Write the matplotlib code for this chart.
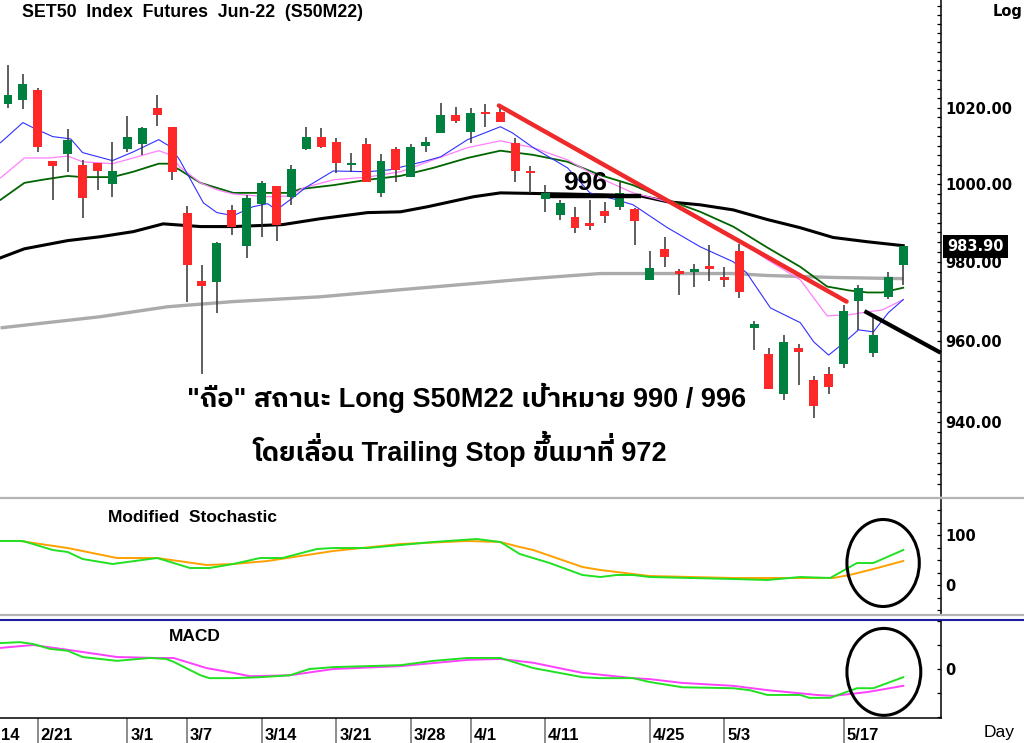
import matplotlib
matplotlib.use('Agg')
import itertools
import matplotlib.pyplot as plt
import matplotlib.transforms as mtransforms
from matplotlib.lines import Line2D
from matplotlib.patches import Ellipse
from matplotlib.ticker import FixedLocator, FixedFormatter, NullFormatter, MultipleLocator
from matplotlib import font_manager as fm
from matplotlib.ft2font import FT2Font
import numpy as np

# ---------------- data ----------------
all_dates = ['2/14', '2/15', '2/17', '2/18', '2/21', '2/22', '2/23', '2/24', '2/25', '2/28',
             '3/1', '3/2', '3/3', '3/4', '3/7', '3/8', '3/9', '3/10', '3/11', '3/14', '3/15',
             '3/16', '3/17', '3/18', '3/21', '3/22', '3/23', '3/24', '3/25', '3/28', '3/29',
             '3/30', '3/31', '4/1', '4/4', '4/5', '4/7', '4/8', '4/11', '4/12', '4/18', '4/19',
             '4/20', '4/21', '4/22', '4/25', '4/26', '4/27', '4/28', '4/29', '5/3', '5/5', '5/6',
             '5/9', '5/10', '5/11', '5/12', '5/13', '5/17', '5/18', '5/19', '5/20', '5/23']
first_candle_date = '2/17'
tick_labels = ['2/14', '2/21', '3/1', '3/7', '3/14', '3/21', '3/28', '4/1', '4/11', '4/25', '5/3', '5/17']
edge_label = '14'   # visible remainder of the '2/14' label at the left edge

opens = [1021.1, 1022.1, 1024.7, 1006.1, 1007.9, 1005.0, 1005.5, 1000.0, 1009.2, 1010.5,
         1020.0, 1015.0, 992.6, 975.2, 974.9, 993.3, 984.1, 994.9, 999.5, 996.7,
         1009.2, 1012.4, 1011.1, 1005.0, 1010.5, 997.7, 1009.2, 1001.8, 1010.0, 1013.4,
         1018.2, 1013.7, 1018.9, 1018.9, 1010.8, 1003.2, 996.2, 992.1, 991.5, 990.0,
         993.1, 994.1, 993.6, 975.4, 983.3, 977.2, 977.5, 979.0, 975.7, 982.8,
         963.3, 956.8, 947.0, 958.3, 950.3, 951.8, 954.3, 970.1, 957.0, 971.1, 979.2]
highs = [1031.5, 1029.1, 1025.3, 1006.1, 1014.5, 1006.3, 1005.5, 1011.1, 1017.9, 1015.0,
         1023.5, 1015.0, 994.4, 979.2, 985.1, 994.6, 997.2, 1000.8, 999.5, 1005.0,
         1015.0, 1014.7, 1012.1, 1008.2, 1012.1, 1007.9, 1009.7, 1010.5, 1012.4, 1021.3,
         1020.3, 1020.0, 1021.1, 1020.3, 1012.1, 1004.7, 999.7, 995.9, 994.1, 995.9,
         995.4, 1000.5, 993.8, 982.8, 986.2, 978.2, 979.5, 984.4, 978.7, 984.6,
         965.1, 958.3, 961.5, 959.3, 951.3, 953.5, 969.1, 974.2, 965.8, 977.5, 984.1]
lows = [1020.0, 1019.7, 1008.4, 995.9, 1003.2, 991.3, 998.5, 996.7, 1008.4, 1007.6,
        1015.3, 1001.1, 969.9, 951.8, 967.1, 986.9, 981.0, 986.2, 985.4, 994.6,
        1008.9, 1009.5, 1002.9, 1003.2, 1000.5, 996.7, 1000.5, 1001.8, 1008.4, 1013.4,
        1016.1, 1010.8, 1015.0, 1016.3, 1000.5, 997.7, 992.8, 990.8, 987.4, 988.2,
        990.0, 993.3, 984.4, 975.4, 978.7, 971.6, 973.7, 975.2, 973.7, 970.9,
        957.8, 948.0, 945.3, 949.0, 941.0, 947.0, 953.3, 962.8, 956.0, 970.6, 974.2]
closes = [1023.5, 1026.4, 1009.7, 1004.7, 1011.6, 996.4, 1003.4, 1003.4, 1012.4, 1014.7,
          1018.2, 1003.2, 979.2, 973.9, 984.9, 989.0, 996.4, 1000.3, 989.5, 1003.9,
          1012.4, 1009.7, 1005.5, 1005.5, 1000.5, 1006.1, 1003.7, 1009.7, 1011.1, 1018.2,
          1016.6, 1018.7, 1018.4, 1016.3, 1003.4, 1002.9, 997.7, 995.1, 988.7, 989.2,
          991.8, 997.7, 990.5, 978.5, 981.3, 977.0, 978.2, 978.2, 975.4, 972.2,
          964.3, 948.0, 959.8, 957.3, 944.0, 948.5, 967.6, 973.4, 961.5, 976.2, 983.9]
last_price = 983.9

# moving averages (candle index, value)
ma_blue_i = [-0.5, 1.0, 1.7, 3.0, 4.2, 5.0, 7.0, 8.4, 10.1, 10.9, 11.5, 13.1, 14.0, 15.1, 16.4,
             17.4, 18.0, 18.9, 20.0, 21.8, 24.1, 25.6, 27.8, 29.0, 30.8, 33.0, 33.8, 35.2, 37.5,
             39.0, 40.8, 41.9, 44.2, 46.4, 48.6, 49.5, 51.1, 53.1, 54.0, 55.0, 56.0, 57.0, 58.0,
             59.0, 60.0]
ma_blue_v = [1010.8, 1016.1, 1014.7, 1012.4, 1011.8, 1008.2, 1006.1, 1008.4, 1011.6, 1009.7,
             1006.3, 995.1, 992.6, 991.8, 994.1, 994.9, 993.3, 995.9, 999.2, 1003.4,
             1003.2, 1003.7, 1005.8, 1007.1, 1011.6, 1015.0, 1013.4, 1009.5, 1004.2, 997.7,
             995.9, 994.6, 988.7, 983.8, 980.0, 977.2, 968.3, 964.6, 959.8, 956.5,
             959.5, 962.8, 962.3, 967.1, 970.4]
ma_pink_i = [-0.5, 1.1, 2.8, 4.0, 5.0, 7.0, 8.4, 10.1, 10.9, 11.5, 12.9, 14.0, 15.1, 17.4, 18.9,
             19.8, 21.8, 24.1, 26.3, 28.5, 30.8, 33.0, 35.2, 37.5, 39.7, 41.9, 44.2, 46.4, 48.6,
             50.9, 53.1, 54.9, 56.4, 57.6, 58.6, 60.0]
ma_pink_v = [1001.6, 1006.8, 1006.8, 1007.3, 1005.8, 1005.3, 1006.8, 1008.7, 1007.6, 1004.5,
             1000.3, 998.5, 997.4, 996.7, 996.9, 999.0, 1001.1, 1001.8, 1003.2, 1006.3,
             1009.5, 1011.3, 1009.5, 1006.3, 1001.5, 997.7, 995.4, 991.3, 986.4, 980.5,
             975.4, 966.3, 966.6, 967.3, 967.8, 970.4]
ma_green_i = [-0.5, 1.1, 2.3, 4.0, 5.0, 7.0, 8.4, 10.1, 10.7, 11.5, 12.9, 15.1, 17.4, 18.9, 19.6,
              21.8, 24.1, 26.3, 28.5, 30.8, 33.0, 35.2, 37.5, 39.7, 41.9, 44.2, 46.4, 48.6, 50.9,
              53.1, 54.9, 56.4, 57.6, 58.6, 60.0]
ma_green_v = [995.9, 1000.3, 1001.1, 1002.1, 1001.8, 1001.8, 1003.2, 1005.3, 1005.3, 1003.7,
              1000.3, 997.7, 997.7, 997.7, 998.7, 999.7, 1001.1, 1002.1, 1004.2, 1006.8,
              1008.7, 1007.6, 1005.8, 1002.3, 999.7, 995.9, 992.8, 989.0, 983.6, 978.7,
              973.7, 972.7, 972.2, 972.2, 973.4]
ma_black_i = [-0.5, 1.1, 4.0, 6.2, 8.4, 10.4, 12.9, 15.1, 18.4, 20.9, 24.1, 26.3, 28.1, 31.2,
              33.0, 37.5, 39.7, 42.4, 44.2, 46.4, 48.6, 50.9, 53.1, 55.3, 57.6, 60.0]
ma_black_v = [981.0, 983.3, 985.4, 986.4, 987.7, 989.7, 989.0, 989.0, 989.5, 991.0, 992.6, 992.8,
              994.1, 996.7, 997.7, 997.4, 997.2, 996.9, 995.4, 994.6, 993.3, 990.8, 988.7,
              986.2, 985.1, 984.1]
ma_gray_i = [-0.5, 6.2, 10.7, 15.1, 20.9, 26.3, 31.0, 35.0, 39.7, 48.6, 50.9, 55.3, 60.0]
ma_gray_v = [963.3, 966.1, 968.6, 969.9, 971.1, 972.9, 974.4, 975.7, 977.0, 977.0, 976.5, 976.0,
             975.7]

# drawn annotations (candle index, price)
downtrend_i = [32.9, 56.2]
downtrend_v = [1020.6, 969.9]
trail_i = [57.4, 62.5]
trail_v = [967.5, 957.1]
level_i = [36.3, 42.4]
level_v = [997.0, 997.0]
level_text = '996'

# modified stochastic
stk_i = [-0.5, 1.0, 3.0, 4.0, 5.0, 7.0, 10.0, 12.2, 13.5, 15.1, 16.9, 18.4, 20.7, 21.8, 24.1,
         26.3, 28.5, 31.4, 33.0, 34.3, 36.3, 38.5, 39.7, 40.8, 41.9, 43.0, 48.6, 50.9, 53.1,
         55.1, 56.9, 58.0, 60.0]
stk_v = [88, 88, 70, 66, 52, 42, 54, 34, 34, 42, 54, 54, 72, 74, 74, 80, 86, 92, 86, 62,
         44, 20, 16, 20, 20, 16, 12, 10, 16, 14, 44, 44, 70]
std_i = [-0.5, 0.8, 1.7, 4.0, 7.3, 10.0, 13.3, 15.1, 17.4, 21.8, 26.3, 30.8, 33.0, 34.3, 35.2,
         38.5, 39.7, 43.0, 48.6, 55.3, 56.4, 58.0, 60.0]
std_v = [88, 88, 84, 74, 54, 54, 40, 42, 48, 68, 82, 88, 86, 76, 70, 36, 30, 18, 14, 14, 20,
         32, 48]

# MACD
macd_i = [-0.5, 0.8, 1.7, 2.8, 4.0, 5.0, 7.3, 9.5, 10.6, 11.1, 12.9, 13.5, 15.1, 16.9, 18.9,
          20.2, 21.8, 24.1, 26.3, 28.5, 30.8, 33.0, 35.2, 38.5, 39.7, 41.9, 43.0, 45.2, 48.6,
          49.7, 50.9, 53.1, 53.7, 55.1, 56.9, 58.0, 60.0]
macd_v = [5.4, 5.6, 5.2, 4.2, 3.8, 2.5, 1.7, 2.3, 2.1, 1.5, -1.3, -1.9, -1.9, -1.7, -1.3,
          0.0, 0.4, 0.6, 0.8, 1.7, 2.3, 2.3, 0.2, -1.7, -1.9, -1.9, -2.7, -3.8, -4.0,
          -4.4, -5.4, -5.4, -6.0, -6.0, -4.0, -4.0, -1.7]
sig_i = [-0.5, 1.7, 4.0, 7.3, 10.0, 11.1, 13.3, 15.1, 16.2, 18.9, 21.8, 26.3, 30.8, 33.0, 35.2,
         38.5, 41.9, 43.0, 45.2, 48.6, 50.9, 54.2, 55.3, 57.6, 60.0]
sig_v = [4.4, 5.0, 4.0, 2.5, 2.3, 2.3, 0.2, -0.8, -1.5, -1.3, 0.0, 0.6, 1.9, 2.1, 1.3,
         -0.8, -1.9, -2.1, -2.9, -3.5, -4.4, -5.4, -5.6, -4.8, -3.5]

title = 'SET50  Index  Futures  Jun-22  (S50M22)'
note1 = '"ถือ" สถานะ Long S50M22 เป้าหมาย 990 / 996'
note2 = 'โดยเลื่อน Trailing Stop ขึ้นมาที่ 972'

# ---------------- fonts ----------------
def find_thai_family():
    best = None
    for f in fm.fontManager.ttflist:
        try:
            cmap = FT2Font(f.fname).get_charmap()
        except Exception:
            continue
        if 0x0E16 in cmap and 0x0E2D in cmap and 0x0E40 in cmap:
            w = f.weight if isinstance(f.weight, (int, float)) else 400
            score = (('thai' in f.name.lower()), w >= 600)
            if best is None or score > best[0]:
                best = (score, f.name)
    return best[1] if best else None

thai = find_thai_family()
LAT = 'Liberation Sans'
note_family = [LAT, thai, 'DejaVu Sans'] if thai else [LAT, 'DejaVu Sans']

# ---------------- layout ----------------
W, H, DPI = 1024, 743, 100
fig = plt.figure(figsize=(W / DPI, H / DPI), dpi=DPI)
fig.patch.set_facecolor('white')

def rect(l, t, r, b):
    return [l / W, 1 - b / H, (r - l) / W, (b - t) / H]

def fy(py):
    return 1 - py / H

ax_p = fig.add_axes(rect(0, 0, 941, 496))
ax_s = fig.add_axes(rect(0, 499, 941, 614))
ax_m = fig.add_axes(rect(0, 621, 941, 718))

n_pre = all_dates.index(first_candle_date)
XL = (n_pre - 0.536, n_pre + 62.53)

GREEN = '#00803F'
RED = '#FF2828'
AXFONT = dict(family='DejaVu Sans', weight='bold', size=10.5)

for ax in (ax_p, ax_s, ax_m):
    ax.set_xlim(*XL)
    for s in ('left', 'top', 'bottom'):
        ax.spines[s].set_visible(False)
    ax.spines['right'].set_color('black')
    ax.spines['right'].set_linewidth(1.1)
    ax.yaxis.tick_right()
    ax.tick_params(axis='y', which='both', direction='in', length=3, width=0.9,
                   pad=3, colors='black')
    ax.tick_params(axis='x', which='both', bottom=False, labelbottom=False)

def style_ylabels(ax):
    for lab in ax.get_yticklabels():
        lab.set_fontproperties(fm.FontProperties(**AXFONT))

def kx(idx):
    return np.asarray(idx, dtype=float) + n_pre

# ---------------- price panel ----------------
ax_p.set_yscale('log')
ax_p.set_ylim(922.1, 1049.0)
ax_p.yaxis.set_major_locator(FixedLocator([940, 960, 980, 1000, 1020]))
ax_p.yaxis.set_major_formatter(FixedFormatter(['940.00', '960.00', '980.00', '1000.00', '1020.00']))
ax_p.yaxis.set_minor_locator(FixedLocator(np.arange(925, 1050, 2.5)))
ax_p.yaxis.set_minor_formatter(NullFormatter())
style_ylabels(ax_p)

ax_p.plot(kx(ma_gray_i), ma_gray_v, color='#ABABAB', lw=2.4, zorder=2, solid_capstyle='butt')
ax_p.plot(kx(ma_black_i), ma_black_v, color='black', lw=2.2, zorder=2)
ax_p.plot(kx(ma_green_i), ma_green_v, color='#006400', lw=1.3, zorder=2)
ax_p.plot(kx(ma_pink_i), ma_pink_v, color='#FF80FF', lw=0.9, zorder=2)
ax_p.plot(kx(ma_blue_i), ma_blue_v, color='#3030FF', lw=0.8, zorder=2)

o = np.array(opens); h = np.array(highs); l = np.array(lows); c = np.array(closes)
xk = kx(np.arange(len(o)))
cols = np.where(c >= o, GREEN, RED)
ax_p.vlines(xk, l, h, color='#333333', lw=1.1, zorder=3)
body_lo = np.minimum(o, c)
body_h = np.maximum(np.abs(c - o), 0.6)
ax_p.bar(xk, body_h, bottom=body_lo, width=0.6, color=cols, linewidth=0, zorder=4)

ax_p.plot(kx(downtrend_i), downtrend_v, color='#EE2A2A', lw=3.2, zorder=5, solid_capstyle='round')
ax_p.plot(kx(trail_i), trail_v, color='black', lw=3.0, zorder=5, solid_capstyle='butt')
ax_p.plot(kx(level_i), level_v, color='black', lw=3.2, zorder=5, solid_capstyle='butt')
ax_p.text(kx(np.mean(level_i)) - 0.7, 998.4, level_text, ha='center', va='baseline',
          fontsize=19, fontweight='bold', family=LAT, zorder=6)

# last price box
tr = mtransforms.blended_transform_factory(ax_p.transAxes, ax_p.transData)
tr = mtransforms.offset_copy(tr, fig=fig, x=6, y=0, units='dots')
ax_p.text(1.0, last_price, f'{last_price:.2f}', transform=tr, ha='left', va='center',
          color='white', clip_on=False, zorder=10, **AXFONT,
          bbox=dict(boxstyle='square,pad=0.3', fc='black', ec='none'))

# ---------------- Thai notes ----------------
# matplotlib has no Thai shaping: a tone mark over an upper vowel would collide with it.
# Such tone marks are moved into a first text line (padded with spaces) of the same Text,
# so they sit just above the vowel.
UPPER = set('\u0e31\u0e34\u0e35\u0e36\u0e37\u0e47')
TONES = set('\u0e48\u0e49\u0e4a\u0e4b\u0e4c')
renderer = fig.canvas.get_renderer()

def thai_block(s, cx_px, base_px, fs):
    props = dict(fontsize=fs, fontweight='bold', family=note_family)
    try:
        from matplotlib import _text_helpers
        fp = fm.FontProperties(family=note_family, weight='bold', size=fs)
        font = renderer._prepare_font(fp)
        items = list(_text_helpers.layout(s, font))
        main = ''
        targets = []
        for idx, ch in enumerate(s):
            if ch in TONES and main and main[-1] in UPPER:
                targets.append((items[idx].x, ch))
            else:
                main += ch
        if not targets:
            raise ValueError
        spaces = ['\u2003', '\u2002', ' ', '\u2009', '\u200a']
        adv = {}
        for sp in spaces:
            it = list(_text_helpers.layout(sp + 'x', font))
            adv[sp] = it[1].x
        line1 = ''
        for T, mk in targets:
            cur = list(_text_helpers.layout(line1 + 'x', font))[-1].x
            need = T - cur
            seq = ''
            while need >= adv['\u2003'] + adv['\u2002']:
                seq += '\u2003'
                need -= adv['\u2003']
            best = None
            for a, b, cc, d in itertools.product(range(3), range(4), range(5), range(7)):
                tot = a * adv['\u2002'] + b * adv[' '] + cc * adv['\u2009'] + d * adv['\u200a']
                err = abs(need - tot)
                if best is None or err < best[0]:
                    best = (err, a, b, cc, d)
            _, a, b, cc, d = best
            seq += '\u2002' * a + ' ' * b + '\u2009' * cc + '\u200a' * d
            line1 += seq + mk
        fig.text(cx_px / W, fy(base_px), line1 + '\n' + main, ha='center', va='baseline',
                 multialignment='left', linespacing=0.0, **props)
    except Exception:
        fig.text(cx_px / W, fy(base_px), s, ha='center', va='baseline', **props)

thai_block(note1, 467, 407, 19.5)
thai_block(note2, 460, 461, 19.5)

fig.text(22 / W, fy(17), title, ha='left', va='baseline', fontsize=12.8,
         fontweight='bold', family=LAT)
fig.text(993 / W, fy(16), 'Log', ha='left', va='baseline', **AXFONT)

# ---------------- stochastic panel ----------------
ax_s.set_ylim(-58, 172)
ax_s.yaxis.set_major_locator(FixedLocator([0, 100]))
ax_s.yaxis.set_major_formatter(FixedFormatter(['0', '100']))
ax_s.yaxis.set_minor_locator(MultipleLocator(25))
ax_s.yaxis.set_minor_formatter(NullFormatter())
style_ylabels(ax_s)
ax_s.plot(kx(std_i), std_v, color='#FFA000', lw=1.4, zorder=3)
ax_s.plot(kx(stk_i), stk_v, color='#22E022', lw=1.4, zorder=3)
fig.text(108 / W, fy(522), 'Modified  Stochastic', ha='left', va='baseline', fontsize=12.5,
         fontweight='bold', family=LAT)
ax_s.add_patch(Ellipse((kx(58.65), 44), 4.85, 174, fill=False, ec='black', lw=2.2,
                       clip_on=False, zorder=6))

# ---------------- MACD panel ----------------
ax_m.set_ylim(-10.2, 10.0)
ax_m.yaxis.set_major_locator(FixedLocator([0]))
ax_m.yaxis.set_major_formatter(FixedFormatter(['0']))
ax_m.yaxis.set_minor_locator(MultipleLocator(5))
ax_m.yaxis.set_minor_formatter(NullFormatter())
style_ylabels(ax_m)
ax_m.plot(kx(sig_i), sig_v, color='#FF40FF', lw=1.4, zorder=3)
ax_m.plot(kx(macd_i), macd_v, color='#22E022', lw=1.4, zorder=3)
fig.text(169 / W, fy(641), 'MACD', ha='left', va='baseline', fontsize=12.5,
         fontweight='bold', family=LAT)
ax_m.add_patch(Ellipse((kx(58.7), -0.6), 4.95, 18.1, fill=False, ec='black', lw=2.2,
                       clip_on=False, zorder=6))

ax_m.spines['bottom'].set_visible(True)
ax_m.spines['bottom'].set_color('black')
ax_m.spines['bottom'].set_linewidth(1.1)
tick_k = [all_dates.index(d) for d in tick_labels]
ax_m.set_xticks(tick_k)
ax_m.tick_params(axis='x', which='major', bottom=True, direction='out', length=18,
                 width=1.4, color='#8C8C8C', labelbottom=False)
ax_m.set_xlim(*XL)
lab_tr = mtransforms.blended_transform_factory(ax_m.transData, fig.transFigure)
lab_tr = mtransforms.offset_copy(lab_tr, fig=fig, x=3, y=0, units='dots')
for kk, txt in zip(tick_k, tick_labels):
    if kk < XL[0]:
        # label whose tick lies left of the visible range: only its tail shows at the edge
        fig.text(0.5 / W, fy(740), edge_label, ha='left', va='baseline', fontsize=12,
                 fontweight='bold', family=LAT)
        continue
    ax_m.text(kk, fy(740), txt, transform=lab_tr, ha='left', va='baseline', fontsize=12,
              fontweight='bold', family=LAT, clip_on=False)
fig.text(984 / W, fy(737), 'Day', ha='left', va='baseline', fontsize=12.5, family=LAT)

# panel separators
for py, colr, lw in ((497.5, '#B4B4B4', 1.6), (615.0, '#B4B4B4', 1.6), (619.5, '#1C1C9C', 1.5)):
    fig.add_artist(Line2D([0, 1], [fy(py), fy(py)], transform=fig.transFigure, color=colr, lw=lw))

fig.savefig('out.png', dpi=DPI, facecolor='white')
